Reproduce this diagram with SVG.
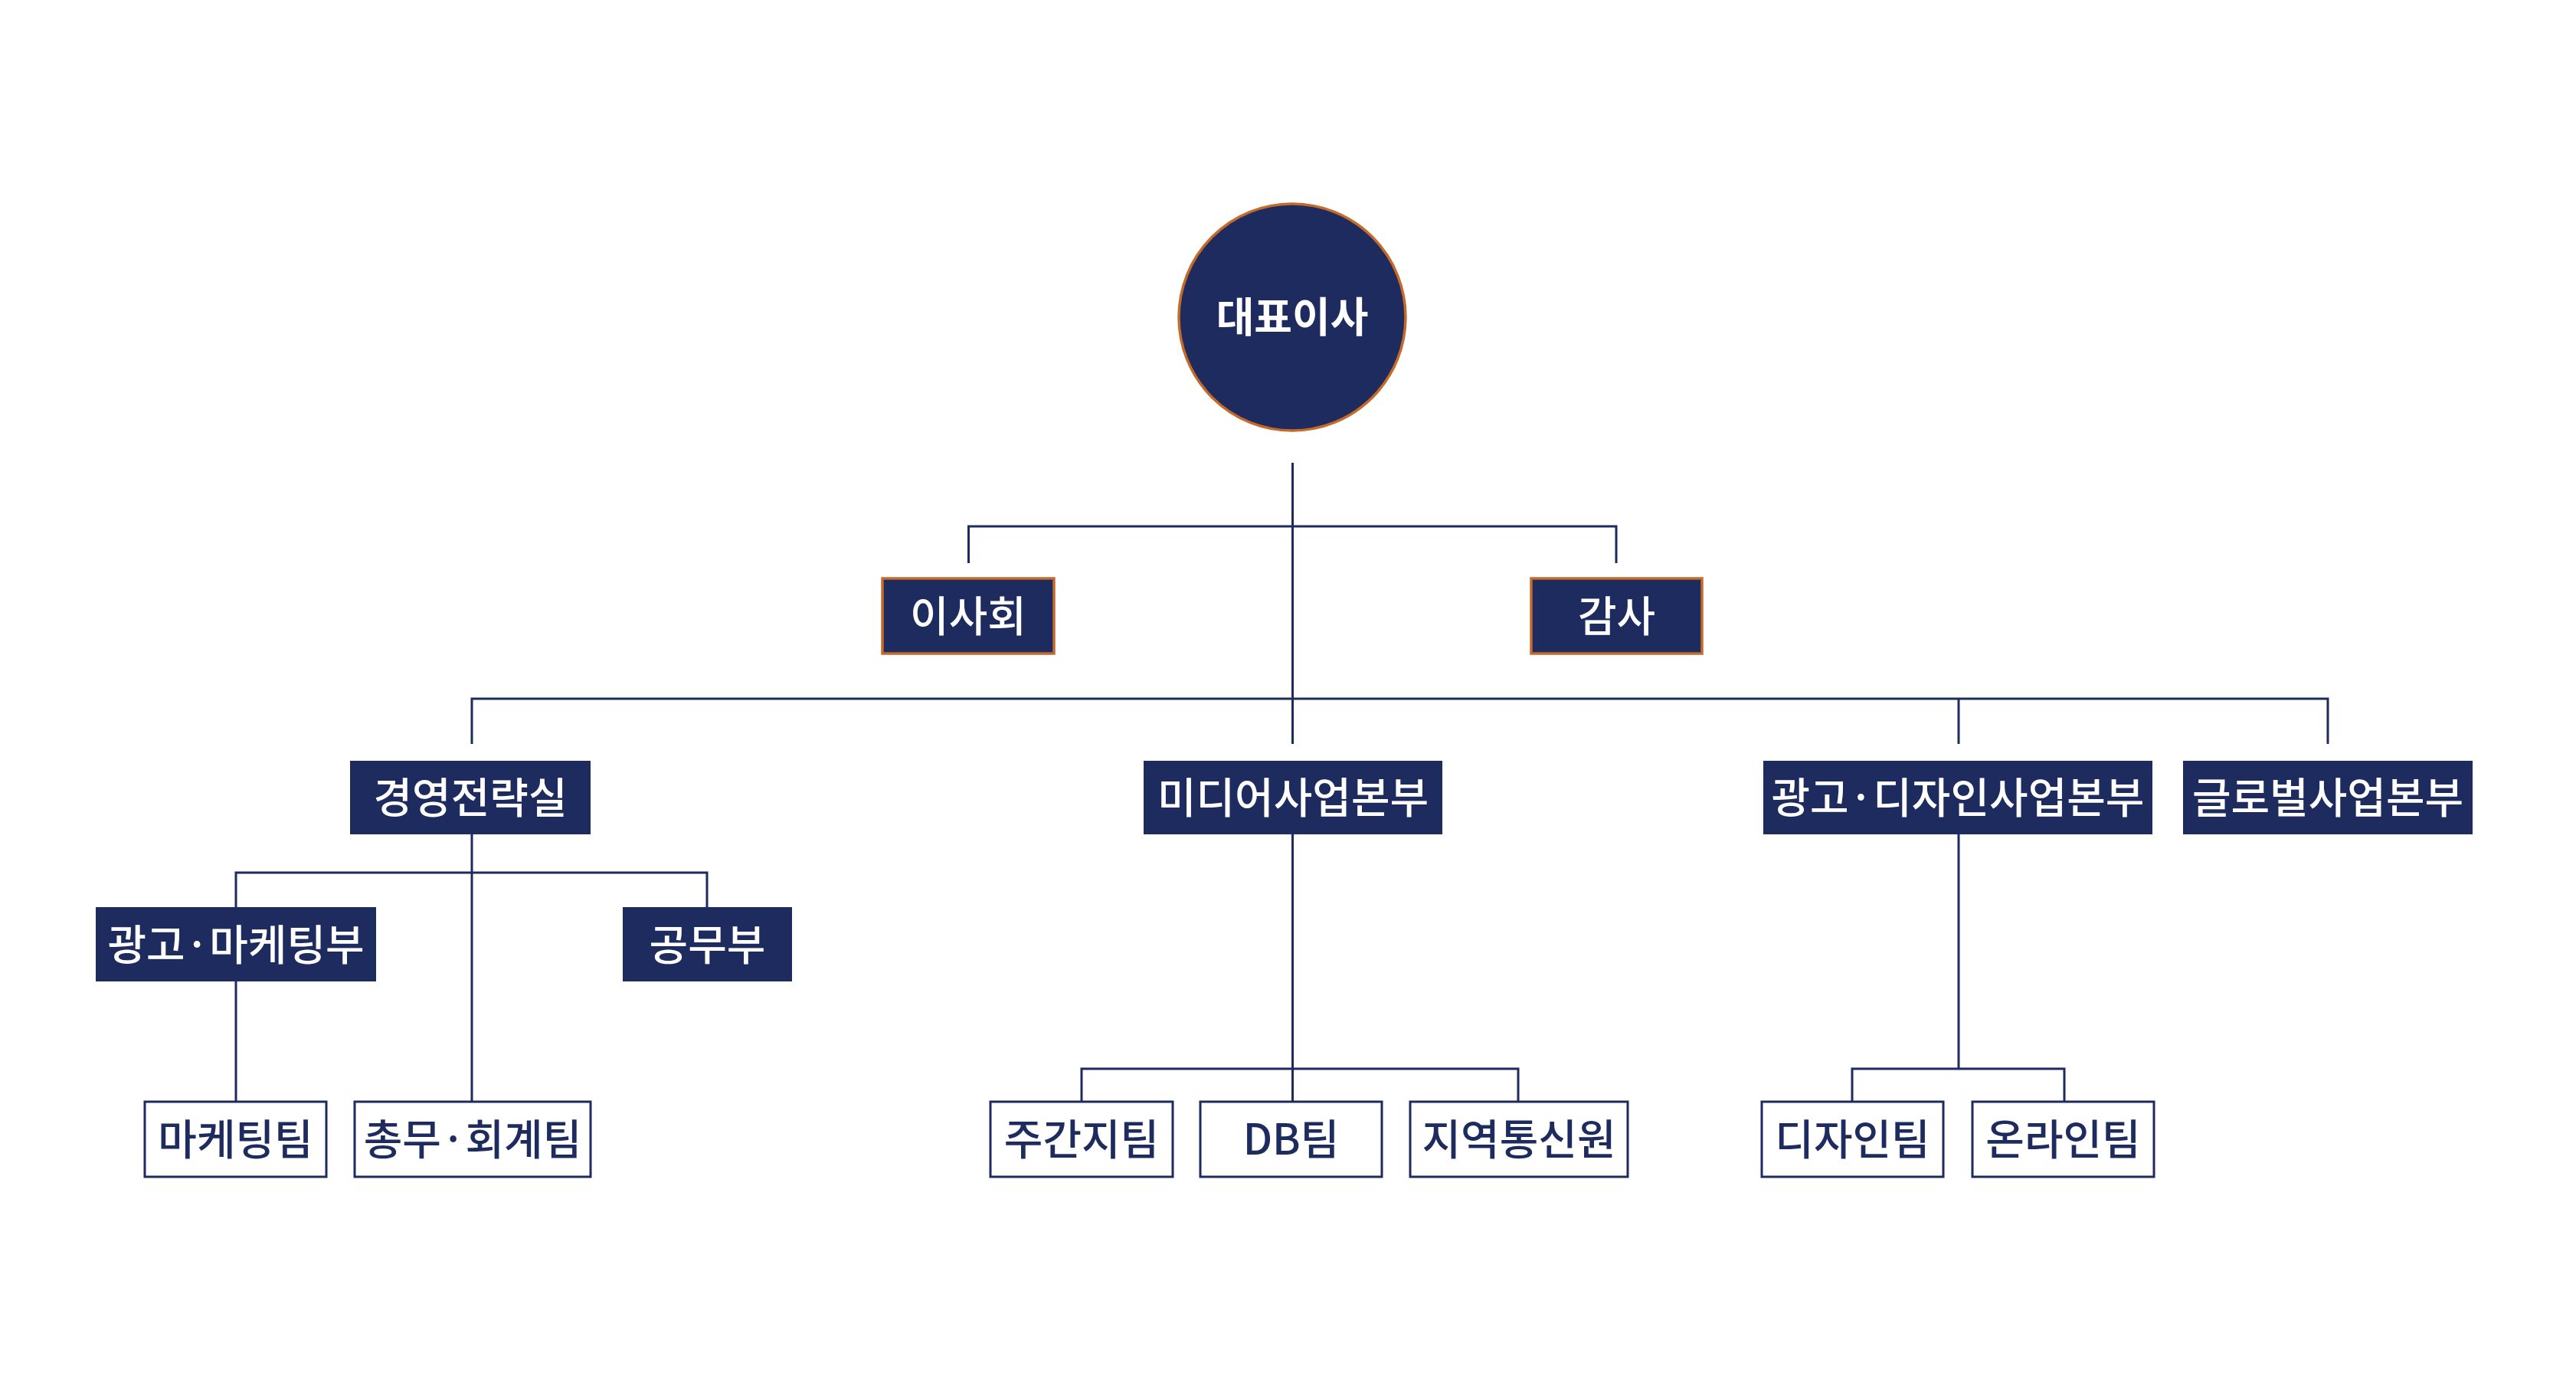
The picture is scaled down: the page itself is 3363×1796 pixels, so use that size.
<svg xmlns="http://www.w3.org/2000/svg" width="3363" height="1796" viewBox="0 0 3363 1796">
<style>
.bg{fill:#ffffff}
.line{stroke:#1d2b5f;stroke-width:3;fill:none}
.dark{fill:#1d2b5f}
.board{fill:#1d2b5f;stroke:#c46a2a;stroke-width:3.5}
.team{fill:#ffffff;stroke:#1d2b5f;stroke-width:3}
text{font-family:"Noto Sans CJK KR","Noto Sans",sans-serif;font-size:55px;font-weight:500;text-anchor:middle}
.wt{fill:#ffffff}
.nt{fill:#1d2b5f}
.ceo{font-weight:700;font-size:54px}
</style>
<rect class="bg" x="0" y="0" width="3363" height="1796"/>
<g id="connectors">
<path class="line" d="M1687.5,604 V971"/>
<path class="line" d="M1264.5,735 V687 H2110 V735"/>
<path class="line" d="M616,971 V912 H3039 V971"/>
<path class="line" d="M2557,912 V971"/>
<path class="line" d="M616,1089 V1438"/>
<path class="line" d="M308,1184 V1139 H923 V1184"/>
<path class="line" d="M308,1281 V1438"/>
<path class="line" d="M1687.5,1089 V1438"/>
<path class="line" d="M1412,1438 V1395 H1982 V1438"/>
<path class="line" d="M2557,1089 V1395"/>
<path class="line" d="M2418,1438 V1395 H2695 V1438"/>
</g>
<g id="ceo">
<circle class="board" cx="1687" cy="414" r="148"/>
<text class="wt ceo" x="1687" y="434">대표이사</text>
</g>
<g id="board">
<rect class="board" x="1152" y="755" width="224" height="98"/>
<text class="wt" x="1264" y="824">이사회</text>
</g>
<g id="audit">
<rect class="board" x="1999" y="755" width="223" height="98"/>
<text class="wt" x="2110.5" y="824">감사</text>
</g>
<g id="strategy">
<rect class="dark" x="457" y="993" width="314" height="96"/>
<text class="wt" x="614" y="1061">경영전략실</text>
</g>
<g id="media">
<rect class="dark" x="1493" y="993" width="390" height="96"/>
<text class="wt" x="1688" y="1061">미디어사업본부</text>
</g>
<g id="addesign">
<rect class="dark" x="2302" y="993" width="508" height="96"/>
<text class="wt" x="2556" y="1061">광고·디자인사업본부</text>
</g>
<g id="global">
<rect class="dark" x="2850" y="993" width="378" height="96"/>
<text class="wt" x="3039" y="1061">글로벌사업본부</text>
</g>
<g id="admarketing">
<rect class="dark" x="125" y="1184" width="366" height="97"/>
<text class="wt" x="308" y="1253">광고·마케팅부</text>
</g>
<g id="works">
<rect class="dark" x="813" y="1184" width="221" height="97"/>
<text class="wt" x="923.5" y="1253">공무부</text>
</g>
<g id="marketingteam">
<rect class="team" x="189" y="1438" width="237" height="98"/>
<text class="nt" x="307.5" y="1507">마케팅팀</text>
</g>
<g id="generalteam">
<rect class="team" x="463" y="1438" width="308" height="98"/>
<text class="nt" x="617" y="1507">총무·회계팀</text>
</g>
<g id="weeklyteam">
<rect class="team" x="1293" y="1438" width="238" height="98"/>
<text class="nt" x="1412" y="1507">주간지팀</text>
</g>
<g id="dbteam">
<rect class="team" x="1567" y="1438" width="237" height="98"/>
<text class="nt" x="1685.5" y="1507">DB팀</text>
</g>
<g id="regional">
<rect class="team" x="1841" y="1438" width="284" height="98"/>
<text class="nt" x="1983" y="1507">지역통신원</text>
</g>
<g id="designteam">
<rect class="team" x="2300" y="1438" width="237" height="98"/>
<text class="nt" x="2418.5" y="1507">디자인팀</text>
</g>
<g id="onlineteam">
<rect class="team" x="2575" y="1438" width="237" height="98"/>
<text class="nt" x="2693.5" y="1507">온라인팀</text>
</g>
</svg>
